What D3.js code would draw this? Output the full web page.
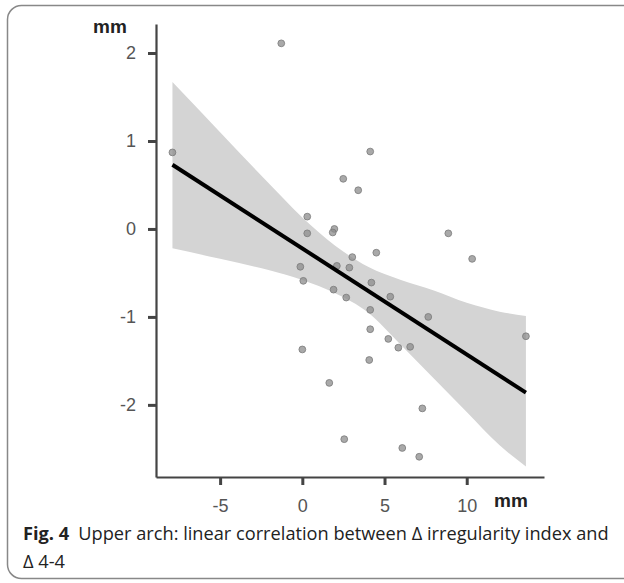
<!DOCTYPE html>
<html>
<head>
<meta charset="utf-8">
<script src="https://cdn.jsdelivr.net/npm/d3@7"></script>
<style>
  body { margin: 0; background: #fff; }
  svg { display: block; }
</style>
</head>
<body>
<div id="chart"></div>
<script>
// points (delta irregularity index vs delta 4-4, mm)
var pointX = [-7.9, -1.28, 0.3, 0.3, -0.12, 0.06, 0.0, 4.13, 2.49, 3.4, 1.95, 1.85,
  8.88, 10.33, 4.5, 3.04, 2.1, 2.86, 4.2, 1.9, 2.67, 5.35, 4.13, 7.66, 13.6,
  4.13, 5.23, 5.84, 6.56, 4.07, 1.64, 7.3, 2.55, 6.08, 7.11];
var pointY = [0.87, 2.11, 0.14, -0.05, -0.43, -0.59, -1.37, 0.88, 0.57, 0.44, 0.0, -0.04,
  -0.05, -0.34, -0.27, -0.32, -0.42, -0.44, -0.61, -0.69, -0.78, -0.77, -0.92, -1.0, -1.22,
  -1.14, -1.25, -1.35, -1.34, -1.49, -1.75, -2.04, -2.39, -2.49, -2.59];

// fitted line ends and confidence band
var fitX = [-7.9, 13.6];
var fitY = [0.73, -1.86];
var bandX = [-7.9, -5, -2, 0, 2, 4, 6, 8, 10, 12, 13.6];
var bandLow = [-0.22, -0.34, -0.47, -0.58, -0.73, -0.95, -1.32, -1.7, -2.08, -2.46, -2.7];
var bandHigh = [1.67, 1.1, 0.51, 0.13, -0.19, -0.43, -0.58, -0.7, -0.84, -0.94, -0.99];

var xTicks = [-5, 0, 5, 10];
var yTicks = [-2, -1, 0, 1, 2];

var width = 624,
  height = 583;

var svg = d3
  .select("#chart")
  .append("svg")
  .attr("width", width)
  .attr("height", height);

// frame of the figure panel
svg
  .append("rect")
  .attr("x", 7.5)
  .attr("y", 5.5)
  .attr("width", 680)
  .attr("height", 573)
  .attr("rx", 14)
  .attr("fill", "none")
  .attr("stroke", "#888")
  .attr("stroke-width", 1.5);

var x = d3.scaleLinear().domain([-8.9, 14.7]).range([156, 544]);
var y = d3.scaleLinear().domain([-2.82, 2.33]).range([477, 24]);

var band = bandX.map(function (d, i) {
  return { x: d, lo: bandLow[i], hi: bandHigh[i] };
});

svg
  .append("path")
  .datum(band)
  .attr("fill", "#d4d4d4")
  .attr(
    "d",
    d3
      .area()
      .curve(d3.curveMonotoneX)
      .x(function (d) { return x(d.x); })
      .y0(function (d) { return y(d.lo); })
      .y1(function (d) { return y(d.hi); })
  );

var pts = pointX.map(function (d, i) {
  return { x: d, y: pointY[i] };
});

svg
  .append("g")
  .selectAll("circle")
  .data(pts)
  .join("circle")
  .attr("cx", function (d) { return x(d.x); })
  .attr("cy", function (d) { return y(d.y); })
  .attr("r", 3.4)
  .attr("fill", "#8c8c8c")
  .attr("fill-opacity", 0.75)
  .attr("stroke", "#7a7a7a")
  .attr("stroke-opacity", 0.8)
  .attr("stroke-width", 1);

var fit = fitX.map(function (d, i) {
  return [x(d), y(fitY[i])];
});

svg
  .append("path")
  .attr("d", d3.line()(fit))
  .attr("stroke", "#000")
  .attr("stroke-width", 4)
  .attr("fill", "none");

// axes
var fmt = function (d) { return String(d); };

var gx = svg
  .append("g")
  .attr("transform", "translate(0,477)")
  .call(d3.axisBottom(x).tickValues(xTicks).tickFormat(fmt).tickSize(8).tickSizeOuter(0).tickPadding(14));

var gy = svg
  .append("g")
  .attr("transform", "translate(156,0)")
  .call(d3.axisLeft(y).tickValues(yTicks).tickFormat(fmt).tickSize(8).tickSizeOuter(0).tickPadding(12));

[gx, gy].forEach(function (g) {
  g.select(".domain").attr("stroke", "#444").attr("stroke-width", 2.2);
  g.selectAll(".tick line").attr("stroke", "#444").attr("stroke-width", 3);
  g.selectAll(".tick text")
    .attr("fill", "#555")
    .style("font-family", "'Liberation Sans', Arial, sans-serif")
    .style("font-size", "18px");
});

svg
  .append("text")
  .attr("x", 110)
  .attr("y", 33)
  .attr("text-anchor", "middle")
  .style("font-family", "'Liberation Sans', Arial, sans-serif")
  .style("font-size", "19px")
  .style("font-weight", "bold")
  .attr("fill", "#222")
  .text("mm");

svg
  .append("text")
  .attr("x", 511)
  .attr("y", 507)
  .attr("text-anchor", "middle")
  .style("font-family", "'Liberation Sans', Arial, sans-serif")
  .style("font-size", "19px")
  .style("font-weight", "bold")
  .attr("fill", "#222")
  .text("mm");

// caption, sized so the first line spans the same width as the figure
var cap = svg
  .append("text")
  .attr("x", 23)
  .attr("y", 540)
  .style("font-family", "'Open Sans', 'Noto Sans', sans-serif")
  .style("font-size", "19px")
  .attr("fill", "#222");
cap.append("tspan").style("font-weight", "bold").text("Fig. 4");
cap.append("tspan").text("\u2002Upper arch: linear correlation between \u0394 irregularity index and");

var w = cap.node().getComputedTextLength();
var fs = Math.min(19, (19 * 586) / w);
cap.style("font-size", fs + "px");

svg
  .append("text")
  .attr("x", 23)
  .attr("y", 568)
  .style("font-family", "'Open Sans', 'Noto Sans', sans-serif")
  .style("font-size", fs + "px")
  .attr("fill", "#222")
  .text("\u0394 4-4");
</script>
</body>
</html>
